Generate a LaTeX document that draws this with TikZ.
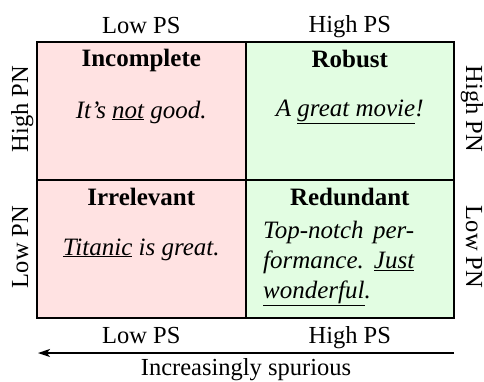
\documentclass[tikz,border=0pt]{standalone}
\usepackage{fontspec}
\setmainfont{Liberation Serif}
\usepackage{tikz}
\usetikzlibrary{arrows.meta,positioning}
\usepackage{xcolor}
\definecolor{quadpink}{HTML}{FFE2E2}
\definecolor{quadgreen}{HTML}{E2FDE2}

\begin{document}
\begin{tikzpicture}[x=1bp,y=-1bp,
  cell/.style={draw=black,line width=2bp,minimum width=208.5bp,minimum height=138bp,inner sep=0pt,outer sep=0pt,anchor=north west},
  ttl/.style={font=\fontsize{25bp}{30bp}\selectfont\bfseries,anchor=base,inner sep=0pt},
  quote/.style={font=\fontsize{25bp}{30bp}\selectfont\itshape,anchor=base,inner sep=0pt},
  axis/.style={font=\fontsize{24.5bp}{30bp}\selectfont,anchor=base,inner sep=0pt},
  >={Stealth[length=12bp,width=8bp,inset=3bp]}]
\useasboundingbox (0,0) rectangle (484,381);
% quadrants
\node[cell,fill=quadpink] (incomplete) at (37,42) {};
\node[cell,fill=quadgreen,right=0pt of incomplete] (robust) {};
\node[cell,fill=quadpink,below=0pt of incomplete] (irrelevant) {};
\node[cell,fill=quadgreen,below=0pt of robust] (redundant) {};
% titles and examples
\node[ttl] (incompleteT) at ([yshift=-24bp]incomplete.north) {Incomplete};
\node[quote] (incompleteQ) at ([yshift=-52bp]incompleteT.base) {It's \underline{not} good.};
\node[ttl] (robustT) at ([yshift=-25bp]robust.north) {Robust};
\node[quote] (robustQ) at ([yshift=-49bp]robustT.base) {A \underline{great movie}!};
\node[ttl] (irrelevantT) at ([yshift=-25bp]irrelevant.north) {Irrelevant};
\node[quote] (irrelevantQ) at ([yshift=-50bp]irrelevantT.base) {\underline{Titanic} is great.};
\node[ttl] (redundantT) at ([yshift=-25bp]redundant.north) {Redundant};
\node[quote,anchor=base west,text width=151bp,align=justify] (redundantQ)
  at ([xshift=17.5bp,yshift=-33bp]redundant.north west |- redundantT.base)
  {Top-notch per-\linebreak formance. \underline{Just}\linebreak \underline{wonderful}.};
% axis labels
\node[axis] (psLowT) at ([yshift=9bp]incomplete.north) {Low PS};
\node[axis] (psHighT) at ([yshift=10bp]robust.north) {High PS};
\node[axis] (psLowB) at ([yshift=-25bp]irrelevant.south) {Low PS};
\node[axis] (psHighB) at ([yshift=-25bp]redundant.south) {High PS};
\node[axis,rotate=90] (pnHighL) at ([xshift=-9bp,yshift=2bp]incomplete.west) {High PN};
\node[axis,rotate=90] (pnLowL) at ([xshift=-9bp,yshift=2bp]irrelevant.west) {Low PN};
\node[axis,rotate=-90] (pnHighR) at ([xshift=12bp,yshift=2bp]robust.east) {High PN};
\node[axis,rotate=-90] (pnLowR) at ([xshift=12bp,yshift=2bp]redundant.east) {Low PN};
% spuriousness arrow
\coordinate (spurR) at ([yshift=-35bp]redundant.south east);
\coordinate (spurL) at ([xshift=1bp,yshift=-35bp]irrelevant.south west);
\draw[->,line width=1.5bp] (spurR) -- node[axis,yshift=-22bp] (spurT) {Increasingly spurious} (spurL);
\end{tikzpicture}
\end{document}
